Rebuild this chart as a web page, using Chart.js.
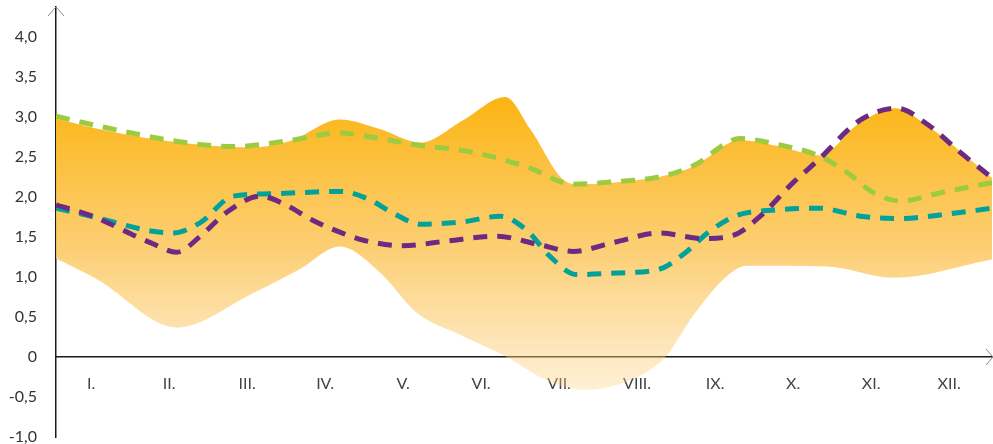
<!DOCTYPE html>
<html lang="hu">
<head>
<meta charset="UTF-8">
<title>Chart</title>
<script src="https://cdn.jsdelivr.net/npm/chart.js"></script>
<style>
  html, body { margin: 0; padding: 0; background: #fff; }
  #wrap { width: 993px; height: 444px; position: relative; }
</style>
</head>
<body>
<div id="wrap"><canvas id="chart"></canvas></div>
<script>
// months on the x axis (one unit per month, 0..12)
const monthLabels = ['I.', 'II.', 'III.', 'IV.', 'V.', 'VI.', 'VII.', 'VIII.', 'IX.', 'X.', 'XI.', 'XII.'];
const yTickValues = [-1, -0.5, 0, 0.5, 1, 1.5, 2, 2.5, 3, 3.5, 4];

// orange band - upper edge
const upperX = [0, 0.5, 1.5, 2.5, 3.0, 3.64, 4.15, 4.67, 5.22, 5.76, 6.08, 6.5, 6.72, 7.36, 7.87, 8.17, 8.77, 9.24, 9.79, 10.31, 10.76, 11.17, 12];
const upperY = [2.98, 2.86, 2.69, 2.62, 2.70, 2.97, 2.85, 2.68, 2.96, 3.25, 2.85, 2.22, 2.16, 2.20, 2.28, 2.38, 2.71, 2.64, 2.52, 2.93, 3.11, 2.89, 2.24];

// orange band - lower edge
const lowerX = [0, 0.53, 1.55, 2.53, 3.13, 3.64, 4.15, 4.63, 5.22, 5.78, 6.29, 6.76, 7.36, 7.81, 8.17, 8.6, 8.86, 9.88, 10.73, 12];
const lowerY = [1.23, 0.97, 0.37, 0.80, 1.10, 1.38, 1.06, 0.55, 0.26, 0.00, -0.29, -0.41, -0.29, 0.00, 0.52, 1.01, 1.14, 1.13, 0.99, 1.22];

// green dashed
const greenX = [0, 0.44, 1.59, 2.27, 2.96, 3.64, 4.15, 4.63, 5.22, 5.65, 6.08, 6.63, 7.14, 7.78, 8.17, 8.77, 9.24, 9.79, 10.14, 10.47, 10.82, 11.37, 12];
const greenY = [3.01, 2.91, 2.69, 2.63, 2.70, 2.80, 2.73, 2.65, 2.58, 2.49, 2.36, 2.16, 2.19, 2.26, 2.39, 2.73, 2.66, 2.51, 2.31, 2.06, 1.95, 2.06, 2.18];

// teal dashed
const tealX = [0, 0.4, 1.5, 1.85, 2.27, 2.74, 3.64, 3.99, 4.32, 4.67, 5.22, 5.69, 6.04, 6.33, 6.68, 7.19, 7.74, 8.04, 8.38, 8.73, 9.24, 9.79, 10.31, 10.82, 11.37, 12];
const tealY = [1.86, 1.77, 1.55, 1.68, 2.01, 2.04, 2.07, 1.98, 1.80, 1.66, 1.69, 1.76, 1.58, 1.26, 1.03, 1.05, 1.10, 1.28, 1.57, 1.77, 1.84, 1.86, 1.76, 1.73, 1.78, 1.86];

// purple dashed
const purpleX = [0, 0.44, 1.21, 1.55, 1.85, 2.19, 2.62, 2.91, 3.29, 3.64, 3.94, 4.45, 5.01, 5.65, 6.17, 6.63, 7.14, 7.74, 8.29, 8.68, 9.03, 9.45, 9.76, 10.31, 10.78, 11.17, 11.59, 12];
const purpleY = [1.90, 1.77, 1.43, 1.31, 1.51, 1.81, 2.01, 1.92, 1.71, 1.56, 1.46, 1.39, 1.45, 1.51, 1.41, 1.32, 1.43, 1.55, 1.48, 1.52, 1.76, 2.18, 2.45, 2.96, 3.11, 2.91, 2.56, 2.24];

const toPoints = (xs, ys) => xs.map((x, i) => ({ x: x, y: ys[i] }));

function bandGradient(context) {
  const chart = context.chart;
  if (!chart.chartArea) return 'rgba(251,182,20,0.8)';
  const y = chart.scales.y;
  const g = chart.ctx.createLinearGradient(0, y.getPixelForValue(3.2), 0, y.getPixelForValue(-0.45));
  g.addColorStop(0, 'rgba(251,181,20,1)');
  g.addColorStop(0.5, 'rgba(252,198,90,0.85)');
  g.addColorStop(1, 'rgba(252,205,120,0.3)');
  return g;
}

// arrow heads on the two axes
const axisArrows = {
  id: 'axisArrows',
  afterDraw(chart) {
    const ctx = chart.ctx;
    const area = chart.chartArea;
    const x0 = chart.scales.y.right;
    const y0 = chart.scales.y.getPixelForValue(0);
    ctx.save();
    ctx.strokeStyle = '#8a8a8a';
    ctx.lineWidth = 1;
    ctx.beginPath();
    ctx.moveTo(x0 - 8, area.top + 9);
    ctx.lineTo(x0, area.top);
    ctx.lineTo(x0 + 8, area.top + 9);
    ctx.moveTo(chart.width - 7, y0 - 8);
    ctx.lineTo(chart.width, y0);
    ctx.lineTo(chart.width - 7, y0 + 8);
    ctx.stroke();
    ctx.restore();
  }
};

const lineBase = {
  type: 'line',
  fill: false,
  pointRadius: 0,
  borderWidth: 5,
  borderDash: [14, 10],
  borderCapStyle: 'butt',
  cubicInterpolationMode: 'monotone'
};

new Chart(document.getElementById('chart'), {
  type: 'line',
  data: {
    datasets: [
      Object.assign({}, lineBase, { label: 'purple', data: toPoints(purpleX, purpleY), borderColor: '#6c2a82' }),
      Object.assign({}, lineBase, { label: 'teal', data: toPoints(tealX, tealY), borderColor: '#00a29a' }),
      Object.assign({}, lineBase, { label: 'green', data: toPoints(greenX, greenY), borderColor: '#9dcb3f' }),
      {
        label: 'upper',
        data: toPoints(upperX, upperY),
        borderWidth: 0,
        pointRadius: 0,
        fill: '+1',
        backgroundColor: bandGradient,
        cubicInterpolationMode: 'monotone'
      },
      {
        label: 'lower',
        data: toPoints(lowerX, lowerY),
        borderWidth: 0,
        pointRadius: 0,
        fill: false,
        cubicInterpolationMode: 'monotone'
      }
    ]
  },
  options: {
    responsive: true,
    maintainAspectRatio: false,
    animation: false,
    layout: { padding: { top: 7, right: 1, bottom: 7, left: 0 } },
    plugins: { legend: { display: false }, tooltip: { enabled: false } },
    scales: {
      x: {
        type: 'linear',
        min: 0,
        max: 12,
        position: { y: 0 },
        afterFit: s => { s.height = 0; s.paddingTop = 0; s.paddingBottom = 0; },
        grid: { display: false, drawTicks: false },
        border: { display: true, color: '#1a1a1a', width: 1.5 },
        afterBuildTicks: s => { s.ticks = monthLabels.map((m, i) => ({ value: i + 0.45 })); },
        ticks: {
          autoSkip: false,
          maxRotation: 0,
          padding: 17,
          color: '#444',
          font: { family: 'Lato', size: 16 },
          callback: (v, i) => monthLabels[i]
        }
      },
      y: {
        type: 'linear',
        min: -1,
        max: 4.375,
        afterFit: s => { s.width = 56; s.paddingTop = 0; s.paddingBottom = 0; },
        afterBuildTicks: s => { s.ticks = yTickValues.map(v => ({ value: v })); },
        grid: { display: false, drawTicks: false },
        border: { display: true, color: '#1a1a1a', width: 1.5 },
        ticks: {
          padding: 19,
          color: '#333',
          font: { family: 'Lato', size: 16, lineHeight: 1 },
          callback: v => v === 0 ? '0' : v.toFixed(1).replace('.', ',')
        }
      }
    }
  },
  plugins: [axisArrows]
});
</script>
</body>
</html>
